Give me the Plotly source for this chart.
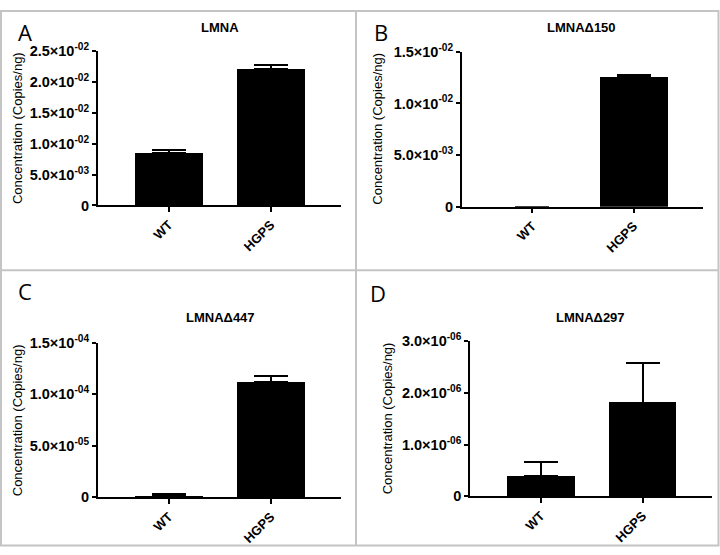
import plotly.graph_objects as go

categories = ["WT", "HGPS"]

# values (mean) and upper error bar sizes for each panel
lmna_mean = [8.55e-3, 2.214e-2]
lmna_err = [0.35e-3, 0.66e-3]

d150_mean = [0.0, 1.256e-2]
d150_err = [0.0, 0.024e-2]

d447_mean = [1.6e-6, 1.121e-4]
d447_err = [1.2e-6, 0.057e-4]

d297_mean = [4.0e-7, 1.814e-6]
d297_err = [2.68e-7, 0.761e-6]

titles = ["LMNA", "LMNA\u0394150", "LMNA\u0394447", "LMNA\u0394297"]
panel_letters = ["A", "B", "C", "D"]

ticks_a = [0, 5e-3, 1e-2, 1.5e-2, 2e-2, 2.5e-2]
labels_a = ["0", "5.0\u00d710<sup>-03</sup>", "1.0\u00d710<sup>-02</sup>", "1.5\u00d710<sup>-02</sup>",
            "2.0\u00d710<sup>-02</sup>", "2.5\u00d710<sup>-02</sup>"]
ticks_b = [0, 5e-3, 1e-2, 1.5e-2]
labels_b = ["0", "5.0\u00d710<sup>-03</sup>", "1.0\u00d710<sup>-02</sup>", "1.5\u00d710<sup>-02</sup>"]
ticks_c = [0, 5e-5, 1e-4, 1.5e-4]
labels_c = ["0", "5.0\u00d710<sup>-05</sup>", "1.0\u00d710<sup>-04</sup>", "1.5\u00d710<sup>-04</sup>"]
ticks_d = [0, 1e-6, 2e-6, 3e-6]
labels_d = ["0", "1.0\u00d710<sup>-06</sup>", "2.0\u00d710<sup>-06</sup>", "3.0\u00d710<sup>-06</sup>"]

W, H = 720, 555
def px(x):
    return x / W
def py(y):
    return 1 - y / H

panels = [
    dict(mean=lmna_mean, err=lmna_err, ticks=ticks_a, labels=labels_a,
         xd=(97.7, 340.7), yd=(42.3, 202.0), title_xy=(220, 18), letter_xy=(25, 23), ytitle_xy=(17, 122)),
    dict(mean=d150_mean, err=d150_err, ticks=ticks_b, labels=labels_b,
         xd=(461.7, 703.0), yd=(43.3, 203.3), title_xy=(581.7, 18), letter_xy=(381, 23), ytitle_xy=(376.7, 123)),
    dict(mean=d447_mean, err=d447_err, ticks=ticks_c, labels=labels_c,
         xd=(97.7, 340.7), yd=(344.0, 503.7), title_xy=(220, 318), letter_xy=(25, 290), ytitle_xy=(17, 424)),
    dict(mean=d297_mean, err=d297_err, ticks=ticks_d, labels=labels_d,
         xd=(470.0, 712.3), yd=(342.3, 502.7), title_xy=(590, 318), letter_xy=(378, 292), ytitle_xy=(387, 422)),
]

FONT = "Liberation Sans, Arial, sans-serif"
fig = go.Figure()
annotations = []
layout_axes = {}

for i, p in enumerate(panels):
    n = "" if i == 0 else str(i + 1)
    fig.add_trace(go.Bar(
        x=[0, 1], y=p["mean"], width=0.667,
        marker=dict(color="black", line=dict(width=0)),
        error_y=dict(type="data", symmetric=False, array=p["err"], arrayminus=[0, 0],
                     color="black", thickness=2, width=17),
        xaxis="x" + n, yaxis="y" + n, showlegend=False,
    ))
    layout_axes["xaxis" + n] = dict(
        domain=[px(p["xd"][0]), px(p["xd"][1])], anchor="y" + n,
        range=[-0.696, 1.686], tickmode="array", tickvals=[0, 1], ticktext=categories,
        tickangle=-45, ticks="outside", ticklen=5, tickwidth=1.5, tickcolor="black",
        showline=True, linecolor="black", linewidth=1.5, showgrid=False, zeroline=False,
        tickfont=dict(family=FONT, size=13, color="black", weight="bold"), fixedrange=True,
    )
    layout_axes["yaxis" + n] = dict(
        domain=[py(p["yd"][1]), py(p["yd"][0])], anchor="x" + n,
        range=[0, p["ticks"][-1]], tickmode="array", tickvals=p["ticks"], ticktext=p["labels"],
        ticks="outside", ticklen=4, tickwidth=1.5, tickcolor="black",
        showline=True, linecolor="black", linewidth=1.5, showgrid=False, zeroline=False,
        tickfont=dict(family=FONT, size=14.5, color="black", weight="bold"), fixedrange=True,
    )
    annotations.append(dict(x=px(p["title_xy"][0]), y=py(p["title_xy"][1]), xref="paper", yref="paper",
                            text="<b>" + titles[i] + "</b>", showarrow=False,
                            font=dict(family=FONT, size=13, color="black"),
                            xanchor="center", yanchor="middle"))
    annotations.append(dict(x=px(p["letter_xy"][0]), y=py(p["letter_xy"][1]), xref="paper", yref="paper",
                            text=panel_letters[i], showarrow=False,
                            font=dict(family="Open Sans, sans-serif", size=22, color="black"),
                            xanchor="center", yanchor="middle"))
    annotations.append(dict(x=px(p["ytitle_xy"][0]), y=py(p["ytitle_xy"][1]), xref="paper", yref="paper",
                            text="Concentration (Copies/ng)", showarrow=False, textangle=-90,
                            font=dict(family=FONT, size=13, color="black"),
                            xanchor="center", yanchor="middle"))

border = "#c4c4c4"
shapes = [
    dict(type="rect", xref="paper", yref="paper", x0=px(1), x1=px(718.5), y0=py(553.5), y1=py(1),
         line=dict(color=border, width=2)),
    dict(type="line", xref="paper", yref="paper", x0=px(356), x1=px(356), y0=py(553.5), y1=py(1),
         line=dict(color=border, width=2)),
    dict(type="line", xref="paper", yref="paper", x0=px(1), x1=px(718.5), y0=py(269), y1=py(269),
         line=dict(color=border, width=2)),
]

fig.update_layout(
    width=W, height=H, margin=dict(l=0, r=0, t=0, b=0),
    paper_bgcolor="white", plot_bgcolor="white",
    annotations=annotations, shapes=shapes, bargap=0,
    **layout_axes,
)

fig.write_html("out.html", config={"displayModeBar": False},
               post_script="document.body.style.margin='0';document.body.style.overflow='hidden';")
